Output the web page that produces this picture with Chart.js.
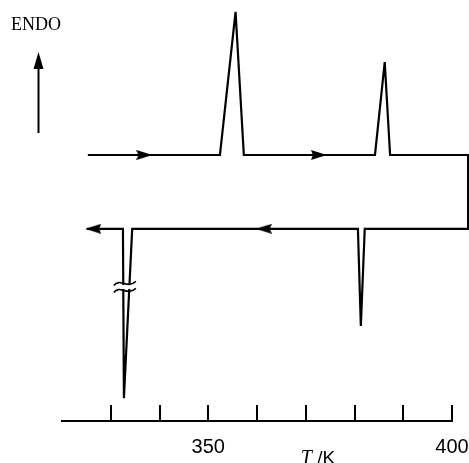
<!DOCTYPE html>
<html>
<head>
<meta charset="utf-8">
<script src="https://cdn.jsdelivr.net/npm/chart.js@4/dist/chart.umd.min.js"></script>
<style>body{margin:0;background:#fff}</style>
</head>
<body>
<canvas id="dsc" width="469" height="463"></canvas>
<script>
// DSC run: heating (upper trace, left to right) then cooling (lower trace, right to left)
// T in K, signal in arbitrary units, endo up
const heatT = [325.3, 352.4, 355.6, 357.3, 384.2, 386.2, 387.3, 403.3];
const heatY = [64.1, 64.1, 98.6, 64.1, 64.1, 86.5, 64.1, 64.1];
const coolT = [403.3, 382.1, 381.3, 380.7, 334.4, 332.7, 332.5, 325.1];
const coolY = [46.3, 46.3, 22.9, 46.3, 46.3, 5.5, 46.3, 46.3];
// direction arrows along the trace
const arrowT = [336.9, 372.7, 361.4, 326.4];
const arrowY = [64.1, 64.1, 46.3, 46.3];
const arrowRot = [0, 0, 180, 180];
const tickLabels = [350, 400];

const trace = heatT.map((t, i) => ({x: t, y: heatY[i]}))
  .concat(coolT.map((t, i) => ({x: t, y: coolY[i]})));
const arrows = arrowT.map((t, i) => ({x: t, y: arrowY[i]}));

// arrow head used as point style
const head = document.createElement('canvas');
head.width = 16; head.height = 10;
const hc = head.getContext('2d');
hc.beginPath(); hc.moveTo(0, 0); hc.lineTo(16, 5); hc.lineTo(0, 10); hc.lineTo(2, 5); hc.closePath(); hc.fill();

const notes = {
  id: 'notes',
  afterDatasetsDraw(chart) {
    const {ctx, scales: {x, y}} = chart;
    ctx.save();
    ctx.fillStyle = '#000';
    ctx.strokeStyle = '#000';
    // ENDO label + arrow
    ctx.font = '18px "Liberation Serif"';
    ctx.textBaseline = 'alphabetic';
    ctx.fillText('ENDO', 11, 30);
    ctx.lineWidth = 2;
    ctx.beginPath(); ctx.moveTo(38.5, 133); ctx.lineTo(38.5, 64); ctx.stroke();
    ctx.beginPath(); ctx.moveTo(38.5, 52); ctx.lineTo(43.5, 69); ctx.lineTo(33.5, 69); ctx.closePath(); ctx.fill();

    // break mark on the large exotherm
    const bx = x.getPixelForValue(332.9), by = y.getPixelForValue(32.3);
    ctx.fillStyle = '#fff';
    ctx.fillRect(bx - 9, by - 2, 18, 4);
    ctx.lineWidth = 1.6;
    [-3.5, 3.5].forEach(d => {
      const yc = by + d;
      ctx.beginPath();
      ctx.moveTo(bx - 11, yc + 2);
      ctx.bezierCurveTo(bx - 5, yc - 6, bx + 2, yc + 6, bx + 11, yc - 2);
      ctx.stroke();
    });

    // axis title
    ctx.fillStyle = '#000';
    const tx = x.getPixelForValue(372.5);
    ctx.font = 'italic 20px "Liberation Serif"';
    const w1 = ctx.measureText('T').width;
    ctx.font = '19px "Liberation Sans"';
    const w2 = ctx.measureText(' /K').width;
    let sx = tx - (w1 + w2) / 2;
    ctx.font = 'italic 20px "Liberation Serif"';
    ctx.fillText('T', sx, 464);
    ctx.font = '19px "Liberation Sans"';
    ctx.fillText(' /K', sx + w1, 464);
    ctx.restore();
  }
};

new Chart(document.getElementById('dsc'), {
  type: 'scatter',
  data: {
    datasets: [{
      data: trace,
      showLine: true,
      borderColor: '#000',
      borderWidth: 2.2,
      pointRadius: 0,
      tension: 0,
      clip: false
    }, {
      data: arrows,
      showLine: false,
      pointStyle: head,
      pointRadius: 5,
      pointRotation: arrowRot,
      clip: false
    }]
  },
  options: {
    responsive: false,
    animation: false,
    layout: {padding: {left: 62, right: 17, top: 0, bottom: 0}},
    plugins: {legend: {display: false}, tooltip: {enabled: false}},
    scales: {
      x: {
        type: 'linear',
        min: 320,
        max: 400,
        afterBuildTicks: s => { s.ticks = s.ticks.filter(t => t.value >= 330); },
        afterFit: s => { s.height = 42; s.paddingLeft = 0; s.paddingRight = 0; },
        border: {display: true, color: '#000', width: 2},
        grid: {drawOnChartArea: false, drawTicks: true, tickLength: -16, color: '#000', lineWidth: 2},
        ticks: {
          stepSize: 10,
          padding: 30,
          color: '#000',
          font: {family: 'Liberation Sans', size: 20},
          maxRotation: 0,
          autoSkip: false,
          callback: v => tickLabels.includes(v) ? String(v) : ''
        }
      },
      y: {display: false, min: 0, max: 100}
    }
  },
  plugins: [notes]
});
</script>
</body>
</html>
